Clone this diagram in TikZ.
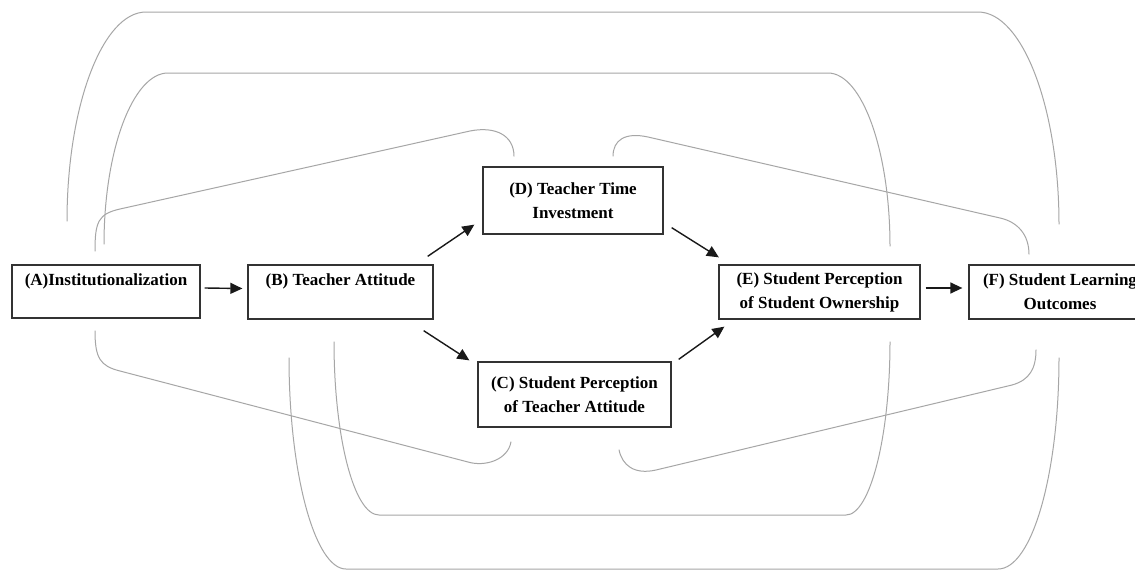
\documentclass[tikz,border=0pt]{standalone}
\usepackage{fontspec}
\setmainfont{Liberation Serif}
\usetikzlibrary{arrows.meta}
\begin{document}
\begin{tikzpicture}[x=1pt,y=-1pt,
  box/.style={draw=black!80, line width=1.3pt, inner sep=0pt, align=center,
    font=\fontsize{17}{24}\selectfont\bfseries},
  arr/.style={draw=black!90, line width=1.4pt, -{Triangle[length=12pt,width=11pt]}},
  link/.style={draw=black!35, line width=1pt}]
\useasboundingbox (0,0) rectangle (1135,573);
\fill[white] (0,0) rectangle (1135,573);
% boxes
\node[box, minimum width=188pt, minimum height=53pt] (A) at (106,291.5) {(A)Institutionalization\\\mbox{}};
\node[box, minimum width=185pt, minimum height=54pt] (B) at (340.5,292) {(B) Teacher Attitude\\\mbox{}};
\node[box, minimum width=180pt, minimum height=67pt] (D) at (573,200.5) {(D) Teacher Time\\Investment};
\node[box, minimum width=193pt, minimum height=65pt] (C) at (574.5,394.5) {(C) Student Perception\\of Teacher Attitude};
\node[box, minimum width=201pt, minimum height=54pt] (E) at (819.5,292) {(E) Student Perception\\of Student Ownership};
\node[box, minimum width=182pt, minimum height=54pt] (F) at (1060,292) {(F) Student Learning\\Outcomes};
% arrows
\draw[arr] ([shift={(4,-3.5)}]A.east) -- ([shift={(-5,-3.5)}]B.west);
\draw[arr] ([shift={(-6,-8)}]B.north east) -- ([shift={(-8,-10)}]D.south west);
\draw[arr] ([shift={(-10,11)}]B.south east) -- ([shift={(-8,-1)}]C.north west);
\draw[arr] ([shift={(8,-7)}]D.south east) -- ([shift={(0.5,-7)}]E.north west);
\draw[arr] ([shift={(7,-2)}]C.north east) -- ([shift={(6,7)}]E.south west);
\draw[arr] ([shift={(5,-4)}]E.east) -- ([shift={(-6,-4)}]F.west);
% curved links
% A -> F outer top
\draw[link] ([shift={(-39,-43)}]A.north) .. controls (67,106) and (102.5,12) .. (146,12)
  -- (978,12) .. controls (1022.5,12) and (1059,108) .. ([shift={(-1,-40)}]F.north);
% A -> E top
\draw[link] ([shift={(-2,-20)}]A.north) .. controls (104,150) and (133,73) .. (168,73)
  -- (828,73) .. controls (862,73) and (890,151) .. ([shift={(70.5,-18)}]E.north);
% A -> D
\draw[link] ([shift={(-11,-13)}]A.north) .. controls (95,222) and (98,214) .. (120,209)
  -- (470,131) .. controls (495,126) and (514,135) .. ([shift={(-59,-10)}]D.north);
% D -> F
\draw[link] ([shift={(40,-10)}]D.north) .. controls (613,140) and (625,132) .. (648,137)
  -- (1000,218) .. controls (1018,222) and (1029,235) .. ([shift={(-31,-10)}]F.north);
% A -> C bottom
\draw[link] ([shift={(-11,12)}]A.south) .. controls (95,358) and (100,366) .. (120,371)
  -- (468,462) .. controls (485,467) and (508,460) .. ([shift={(-63.5,14)}]C.south);
% C -> F bottom
\draw[link] ([shift={(44.5,22)}]C.south) .. controls (622,465) and (634,475) .. (656,470)
  -- (1012,385) .. controls (1030,380) and (1036,368) .. ([shift={(-24,30)}]F.south);
% B -> E bottom inner
\draw[link] ([shift={(-6.5,22)}]B.south) .. controls (334,437) and (354,515) .. (379,515)
  -- (846,515) .. controls (870,515) and (890,437) .. ([shift={(70.5,22)}]E.south);
% B -> F bottom outer
\draw[link] ([shift={(-51.5,38)}]B.south) .. controls (289,474) and (315,569) .. (346,569)
  -- (998,569) .. controls (1032,569) and (1059,474) .. ([shift={(-1,38)}]F.south);
\end{tikzpicture}
\end{document}
